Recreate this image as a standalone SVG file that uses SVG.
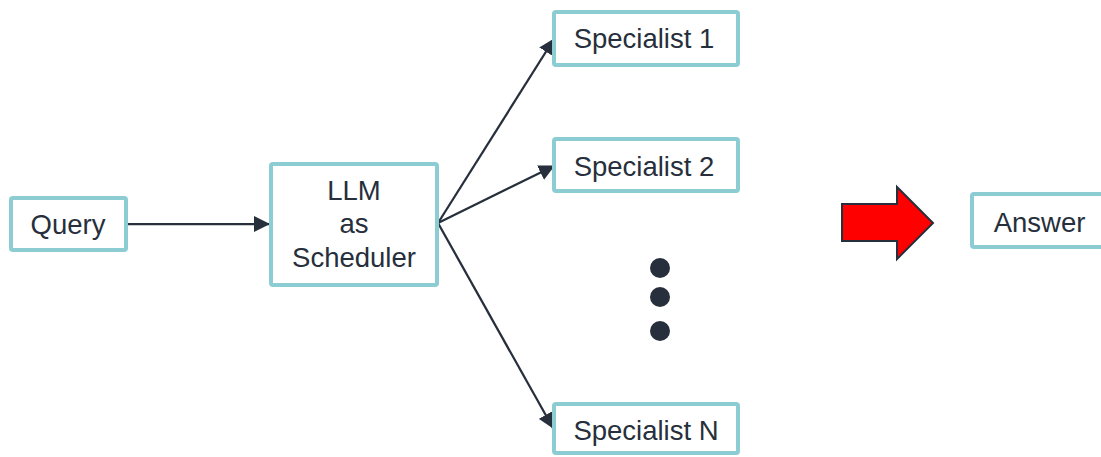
<svg xmlns="http://www.w3.org/2000/svg" width="1101" height="457" viewBox="0 0 1101 457">
  <style>
    .box { fill: #ffffff; stroke: #8bcdd2; stroke-width: 4; }
    .label { font-family: "Liberation Sans", Arial, sans-serif; font-size: 27.5px; fill: #262f3b; text-anchor: middle; }
    .edge { stroke: #262f3b; stroke-width: 2.25; fill: none; }
    .dot { fill: #262f3b; }
  </style>
  <defs>
    <marker id="arrow" markerUnits="userSpaceOnUse" markerWidth="16" markerHeight="16" refX="15" refY="8" orient="auto">
      <path d="M0,0 L16,8 L0,16 Z" fill="#262f3b"/>
    </marker>
  </defs>
  <rect width="1101" height="457" fill="#ffffff"/>

  <g id="connectors">
    <line class="edge" x1="128" y1="224" x2="269" y2="224" marker-end="url(#arrow)"/>
    <line class="edge" x1="438" y1="223" x2="554" y2="39" marker-end="url(#arrow)"/>
    <line class="edge" x1="438" y1="223" x2="554" y2="166" marker-end="url(#arrow)"/>
    <line class="edge" x1="438" y1="223" x2="553" y2="428" marker-end="url(#arrow)"/>
  </g>

  <g id="query">
    <rect class="box" x="11" y="198" width="115" height="52" rx="2"/>
    <text class="label" x="68" y="234">Query</text>
  </g>

  <g id="scheduler">
    <rect class="box" x="271" y="164" width="166" height="121" rx="2"/>
    <text class="label" x="354" y="200">LLM</text>
    <text class="label" x="354" y="233">as</text>
    <text class="label" x="354" y="267">Scheduler</text>
  </g>

  <g id="specialist-1">
    <rect class="box" x="554" y="12" width="184" height="53" rx="2"/>
    <text class="label" x="644" y="48">Specialist 1</text>
  </g>

  <g id="specialist-2">
    <rect class="box" x="554" y="139" width="184" height="52" rx="2"/>
    <text class="label" x="644" y="176">Specialist 2</text>
  </g>

  <g id="ellipsis">
    <circle class="dot" cx="660" cy="268" r="10"/>
    <circle class="dot" cx="660" cy="297" r="10"/>
    <circle class="dot" cx="660" cy="331" r="10"/>
  </g>

  <g id="specialist-n">
    <rect class="box" x="554" y="404" width="184" height="49" rx="2"/>
    <text class="label" x="646" y="440">Specialist N</text>
  </g>

  <g id="result-arrow">
    <polygon points="842,204 897,204 897,187 933,223 897,259 897,241 842,241" fill="#ff0000" stroke="#262f3b" stroke-width="2" stroke-linejoin="miter"/>
  </g>

  <g id="answer">
    <rect class="box" x="972" y="194" width="137" height="53" rx="2"/>
    <text class="label" x="1039.5" y="232">Answer</text>
  </g>
</svg>
